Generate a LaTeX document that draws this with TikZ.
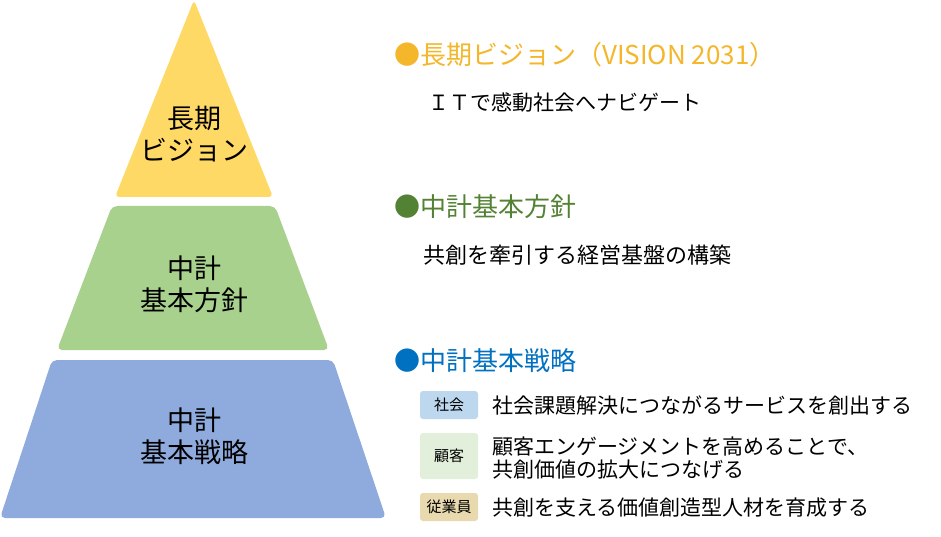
\documentclass[tikz,border=0pt]{standalone}
\usepackage{fontspec}
\setmainfont{Noto Sans CJK JP}
\definecolor{pyrY}{HTML}{FFD966}
\definecolor{pyrG}{HTML}{A9D18E}
\definecolor{pyrB}{HTML}{8FAADC}
\definecolor{headY}{HTML}{F4B62A}
\definecolor{headG}{HTML}{548235}
\definecolor{headB}{HTML}{0070C0}
\definecolor{tagB}{HTML}{BDD7EE}
\definecolor{tagG}{HTML}{E2EFDA}
\definecolor{tagT}{HTML}{E8DAAE}
\begin{document}
\begin{tikzpicture}[x=1pt,y=-1pt,
  pyrtext/.style={align=center,font=\fontsize{27}{32}\selectfont,inner sep=0pt},
  head/.style={anchor=west,inner sep=0pt,font=\fontsize{26}{30}\selectfont},
  body/.style={anchor=west,inner sep=0pt,font=\fontsize{21}{23}\selectfont,align=left},
  tagbox/.style={rounded corners=3pt,minimum width=58pt,inner sep=0pt,font=\fontsize{15}{18}\selectfont}]
\useasboundingbox (0,0) rectangle (941,537);
% pyramid layers
\fill[pyrY,rounded corners=4pt] (194,0) -- (273,197) -- (115,197) -- cycle;
\fill[pyrG,rounded corners=5pt] (112,206) -- (275,206) -- (329,350) -- (57,350) -- cycle;
\fill[pyrB,rounded corners=5pt] (52,360) -- (333,360) -- (386,518) -- (0,518) -- cycle;
\node[pyrtext] (l1) at (194,134) {長期\\ビジョン};
\node[pyrtext] (l2) at (194,284) {中計\\基本方針};
\node[pyrtext] (l3) at (194,436) {中計\\基本戦略};
% right side
\node[head,text=headY] (h1) at (394,55) {●長期ビジョン（VISION 2031）};
\node[body] (s1) at (428,103) {ＩＴで感動社会へナビゲート};
\node[head,text=headG] (h2) at (394,207) {●中計基本方針};
\node[body,font=\fontsize{22}{24}\selectfont] (s2) at (423,255) {共創を牽引する経営基盤の構築};
\node[head,text=headB] (h3) at (394,361) {●中計基本戦略};
\node[tagbox,fill=tagB,minimum height=28pt] (t1) at (449,405) {社会};
\node[tagbox,fill=tagG,minimum height=46pt] (t2) at (449,456) {顧客};
\node[tagbox,fill=tagT,minimum height=28pt] (t3) at (449,507) {従業員};
\node[body] (b1) at (492,405) {社会課題解決につながるサービスを創出する};
\node[body] (b2) at (492,458) {顧客エンゲージメントを高めることで、\\共創価値の拡大につなげる};
\node[body] (b3) at (492,508) {共創を支える価値創造型人材を育成する};
\end{tikzpicture}
\end{document}
